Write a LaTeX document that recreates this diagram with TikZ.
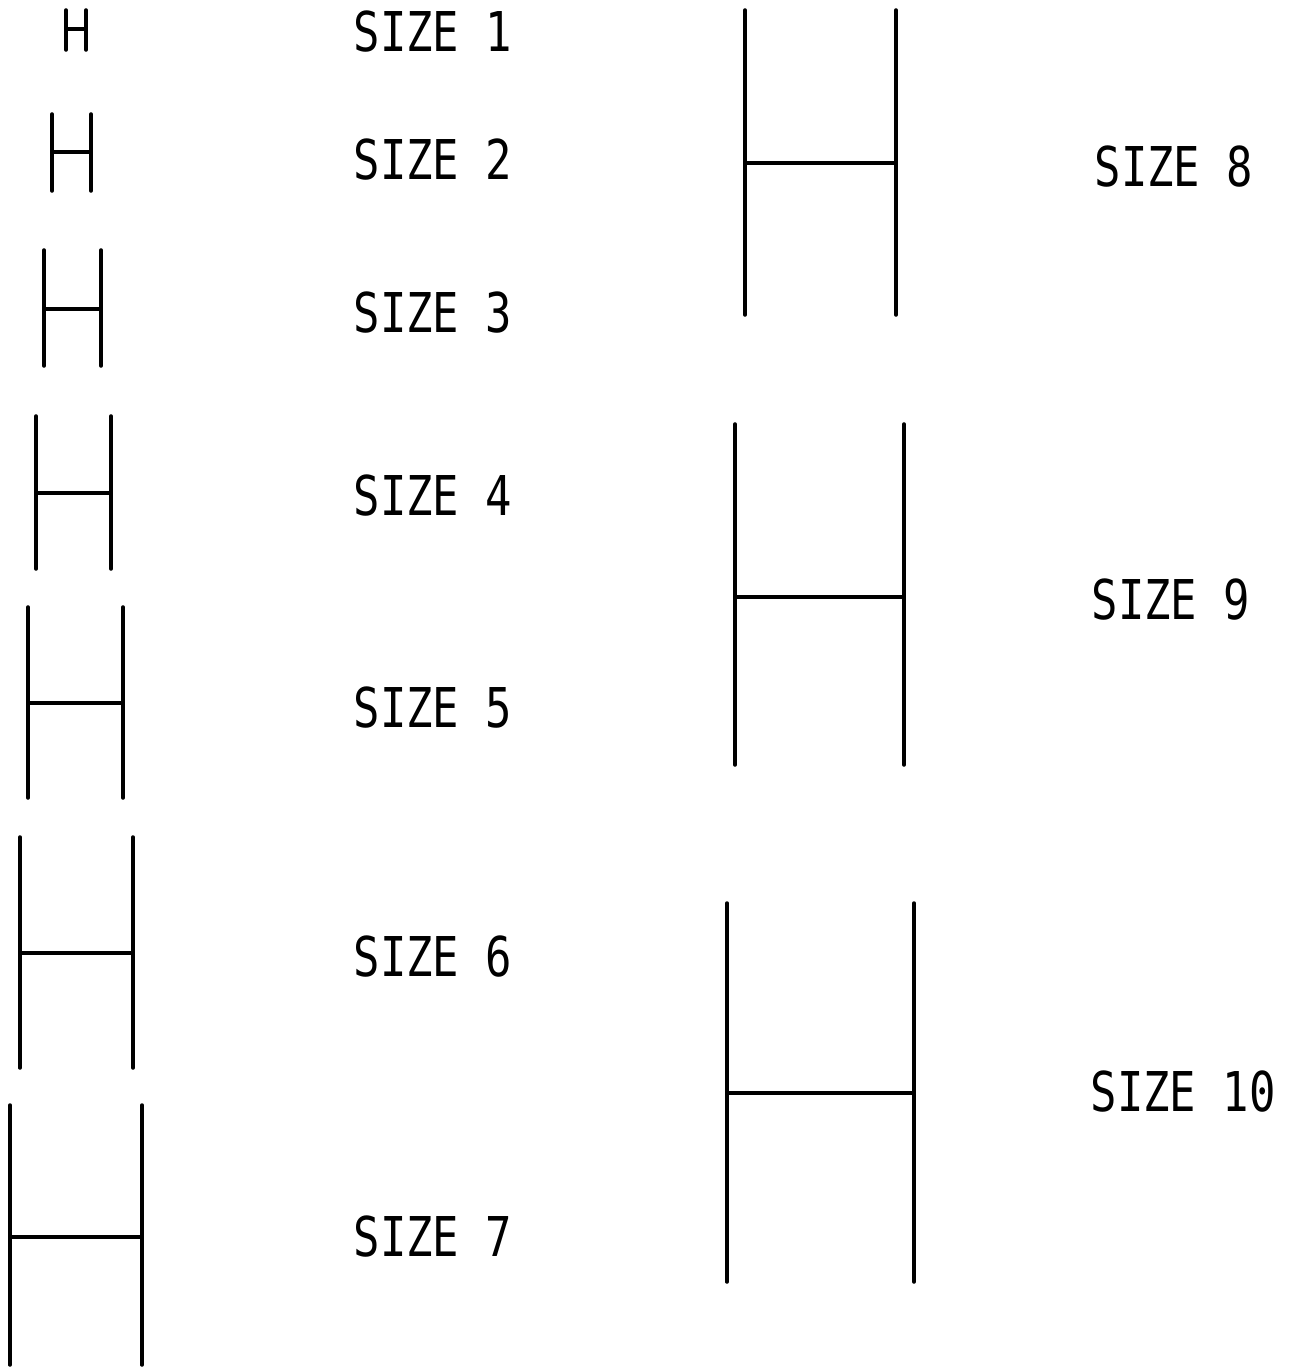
\documentclass[tikz,border=0pt]{standalone}
\usepackage{fontspec}
\usepackage{tikz}
\usetikzlibrary{positioning}
\newfontfamily\plotfont[FakeStretch=0.8]{DejaVu Sans Mono}
\tikzset{
  stroke/.style={black, line width=1pt, line cap=round},
  lbl/.style={font=\plotfont\fontsize{15.6pt}{18pt}\selectfont, anchor=west, inner sep=0pt},
}

\begin{document}
\begin{tikzpicture}[x=0.01cm, y=-0.01cm]
    \useasboundingbox (0,0) rectangle (1293,1367);
    % letter H at sizes 1 to 10: left x, right x, top y, bottom y, bar y
    \foreach \xl/\xr/\yt/\yb/\yc in {66/86/10/50/29, 52/91/114/191/152,
        44/101/250/366/309, 36/111/416/569/493, 28/123/607/798/703,
        20/133/837/1068/953, 10/142/1105/1365/1237, 745/896/10/315/163,
        735/904/424/765/597, 727/914/903/1282/1093}
      \draw[stroke] (\xl,\yt) -- (\xl,\yb) (\xr,\yt) -- (\xr,\yb) (\xl,\yc) -- (\xr,\yc);
    % labels
    \node[lbl] (s1) at (353,32) {SIZE 1};
    \node[lbl] (s2) at (353,160) {SIZE 2};
    \node[lbl] (s3) at (353,313) {SIZE 3};
    \node[lbl] (s4) at (353,496) {SIZE 4};
    \node[lbl] (s5) at (353,708) {SIZE 5};
    \node[lbl] (s6) at (353,957) {SIZE 6};
    \node[lbl] (s7) at (353,1237) {SIZE 7};
    \node[lbl] (s8) at (1094,167) {SIZE 8};
    \node[lbl] (s9) at (1091,600) {SIZE 9};
    \node[lbl] (s10) at (1090,1092) {SIZE 10};
  \end{tikzpicture}
\end{document}
